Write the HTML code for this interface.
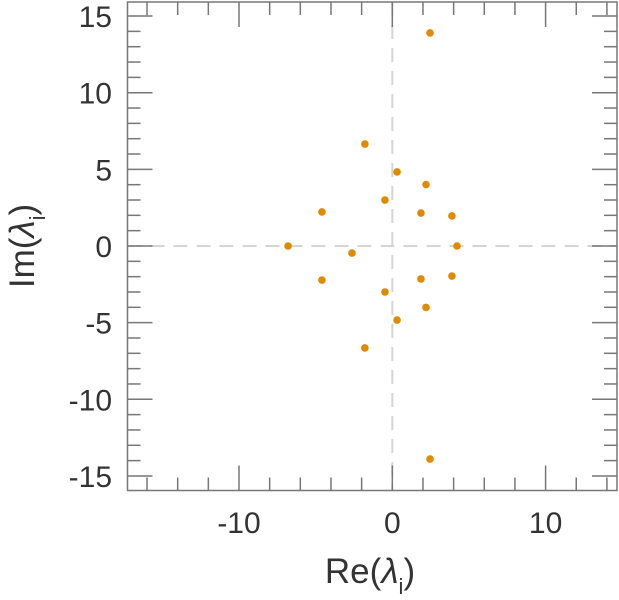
<!DOCTYPE html>
<html><head><meta charset="utf-8"><style>
html,body{margin:0;padding:0;background:#fff;}
svg{display:block;font-family:"Liberation Sans",sans-serif;}
</style></head><body>
<svg id="chart" width="619" height="600" viewBox="0 0 619 600" xmlns="http://www.w3.org/2000/svg">
<g id="grid"></g><g id="pts"></g><g id="axes"></g>
<text x="370" y="583" text-anchor="middle" font-size="35" fill="#333">Re(<tspan font-style="italic">λ</tspan><tspan font-size="22" dy="11">i</tspan><tspan dy="-11">)</tspan></text>
<text transform="translate(34,246) rotate(-90)" text-anchor="middle" font-size="35" fill="#333">Im(<tspan font-style="italic">λ</tspan><tspan font-size="22" dy="11">i</tspan><tspan dy="-11">)</tspan></text>
</svg>
<script>
const reVals=[2.46,-1.79,0.31,2.2,-4.59,-0.48,1.87,3.89,-6.8,4.22,-2.63,-4.59,-0.48,1.87,3.89,0.31,2.2,-1.79,2.46];
const imVals=[13.9,6.65,4.83,4.01,2.22,3.0,2.15,1.96,0,0,-0.46,-2.22,-3.0,-2.15,-1.96,-4.83,-4.01,-6.65,-13.9];
const xTicks=[-10,0,10];
const yTicks=[-15,-10,-5,0,5,10,15];
const L=127.5,R=617,T=2,B=490.5;
const x0=392.3,y0=246,s=15.33;
const X=v=>x0+v*s, Y=v=>y0-v*s;
const NS='http://www.w3.org/2000/svg';
function mk(p,tag,a){const e=document.createElementNS(NS,tag);for(const k in a)e.setAttribute(k,a[k]);p.appendChild(e);return e;}
const grid=document.getElementById('grid'),pts=document.getElementById('pts'),axes=document.getElementById('axes');
let g=mk(grid,'line',{x1:L,x2:R,y1:Y(0),y2:Y(0),stroke:'#d4d4d4','stroke-width':2,'stroke-dasharray':'14,9'});


g=mk(grid,'line',{x1:X(0),x2:X(0),y1:T,y2:B,stroke:'#d4d4d4','stroke-width':2,'stroke-dasharray':'14,9'});


for(let i=0;i<reVals.length;i++){
 const c=mk(pts,'circle',{cx:X(reVals[i]),cy:Y(imVals[i]),r:3.8,fill:'#e08a00'});
 
 
}
const fr=mk(axes,'rect',{x:L,y:T,width:R-L,height:B-T,fill:'none',stroke:'#777','stroke-width':1.5});


for(let v=-16;v<=14;v+=2){
 const maj=v%10===0,len=maj?25:13,px=X(v);
 mk(axes,'line',{x1:px,x2:px,y1:B,y2:B-len,stroke:'#777','stroke-width':1.5});
 mk(axes,'line',{x1:px,x2:px,y1:T,y2:T+len,stroke:'#777','stroke-width':1.5});
}
for(let v=-15;v<=15;v++){
 const maj=v%5===0,len=maj?25:13,py=Y(v);
 mk(axes,'line',{x1:L,x2:L+len,y1:py,y2:py,stroke:'#777','stroke-width':1.5});
 mk(axes,'line',{x1:R,x2:R-len,y1:py,y2:py,stroke:'#777','stroke-width':1.5});
}
for(const v of xTicks){
 const t=mk(axes,'text',{x:X(v),y:533,'text-anchor':'middle','font-size':30,fill:'#333'});
 t.textContent=v;
 
 
}
for(const v of yTicks){
 const t=mk(axes,'text',{x:112,y:Y(v)+11,'text-anchor':'end','font-size':30,fill:'#333'});
 t.textContent=v;
 
 
}
</script>
</body></html>
